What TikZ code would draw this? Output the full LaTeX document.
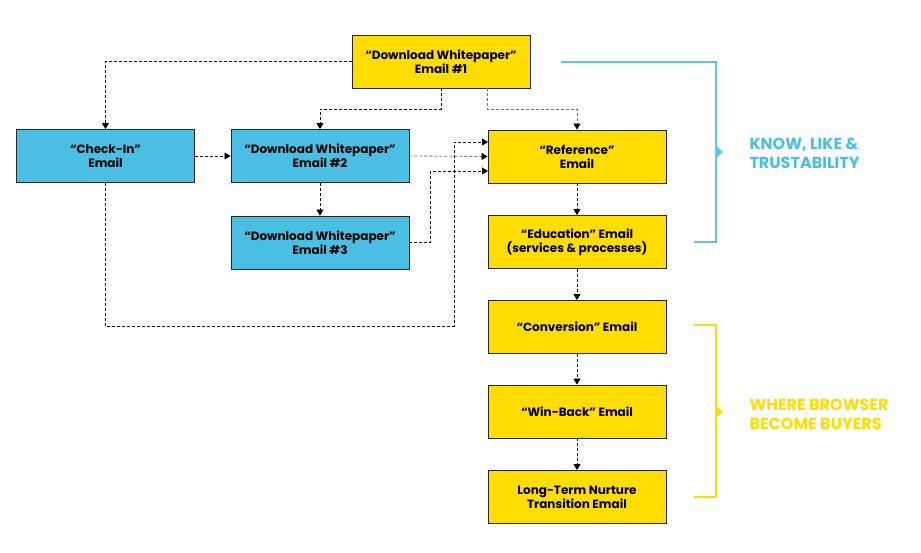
\documentclass[tikz,border=0pt]{standalone}
\usepackage{fontspec}
\setmainfont{Poppins}
\usepackage{xcolor}
\usepackage{tikz}
\usetikzlibrary{arrows.meta}

\definecolor{mailblue}{HTML}{4ABEE3}
\definecolor{mailyellow}{HTML}{FFDD00}
\definecolor{bracketblue}{HTML}{5CC4E8}

\tikzset{
  mailbox/.style={draw=black!85, line width=0.9pt, minimum width=178pt, minimum height=53pt,
    align=center, font=\bfseries\fontsize{12}{14}\selectfont, inner sep=2pt},
  bluebox/.style={mailbox, fill=mailblue},
  yellowbox/.style={mailbox, fill=mailyellow},
  flow/.style={densely dashed, line width=0.8pt, -{Triangle[length=6pt,width=7pt]}},
  softflow/.style={densely dashed, line width=0.8pt, draw=black!55, -{Triangle[length=6pt,width=7pt,color=black]}},
  bracket/.style={line width=1.2pt},
  label/.style={anchor=west, align=left, font=\bfseries\fontsize{16}{19}\selectfont}
}

\begin{document}
\begin{tikzpicture}[x=1pt, y=-1pt]
            \useasboundingbox (0,0) rectangle (921,552);

            % Emails
            \node[yellowbox] (dw1) at (441,61.5) {“Download Whitepaper”\\Email \#1};
            \node[bluebox] (checkin) at (105.5,156) {“Check-In”\\Email};
            \node[bluebox] (dw2) at (320,156) {“Download Whitepaper”\\Email \#2};
            \node[bluebox] (dw3) at (320,242.5) {“Download Whitepaper”\\Email \#3};
            \node[yellowbox] (ref) at (577,156.5) {“Reference”\\Email};
            \node[yellowbox] (edu) at (577,242) {“Education” Email\\(services \& processes)};
            \node[yellowbox] (conv) at (577,327) {“Conversion” Email};
            \node[yellowbox] (winback) at (577,411.5) {“Win-Back” Email};
            \node[yellowbox] (nurture) at (577,497) {Long-Term Nurture\\Transition Email};

            % Entry points into Reference
            \coordinate (refa) at (488,142);
            \coordinate (refc) at (488,171);
            \coordinate (loop) at (454,326);
            \coordinate (dw1out) at (487,88);

            % Branches
            \draw[flow] (dw1.west) -| (checkin.north);
            \draw[flow] (dw1.south) -- ++(0,21) -| (dw2.north);
            \draw[softflow] (dw1out) -- ++(0,21) -| (ref.north);
            \draw[flow] (checkin.east) -- (dw2.west);
            \draw[softflow] (dw2.east) -- (ref.west);
            \draw[flow] (dw2.south) -- (dw3.north);
            \draw[flow] (dw3.east) -- ++(21,0) |- (refc);
            \draw[flow] (checkin.south) |- (loop) |- (refa);

            % Main line
            \draw[flow] (ref.south) -- (edu.north);
            \draw[flow] (edu.south) -- (conv.north);
            \draw[flow] (conv.south) -- (winback.north);
            \draw[flow] (winback.south) -- (nurture.north);

            % Know, like & trustability
            \draw[bracket, bracketblue] (561,62) -- (716,62) -- (716,242) -- (694,242);
            \fill[bracketblue] (716,146) -- (723,152) -- (716,158) -- cycle;
            \node[label, text=mailblue] (know) at (746,153) {KNOW, LIKE \&\\TRUSTABILITY};

            % Where browser become buyers
            \draw[bracket, mailyellow] (694,325) -- (716,325) -- (716,497) -- (694,497);
            \fill[mailyellow] (716,406) -- (723,412) -- (716,418) -- cycle;
            \node[label, text=mailyellow] (buyers) at (746,414) {WHERE BROWSER\\BECOME BUYERS};
        \end{tikzpicture}
\end{document}
